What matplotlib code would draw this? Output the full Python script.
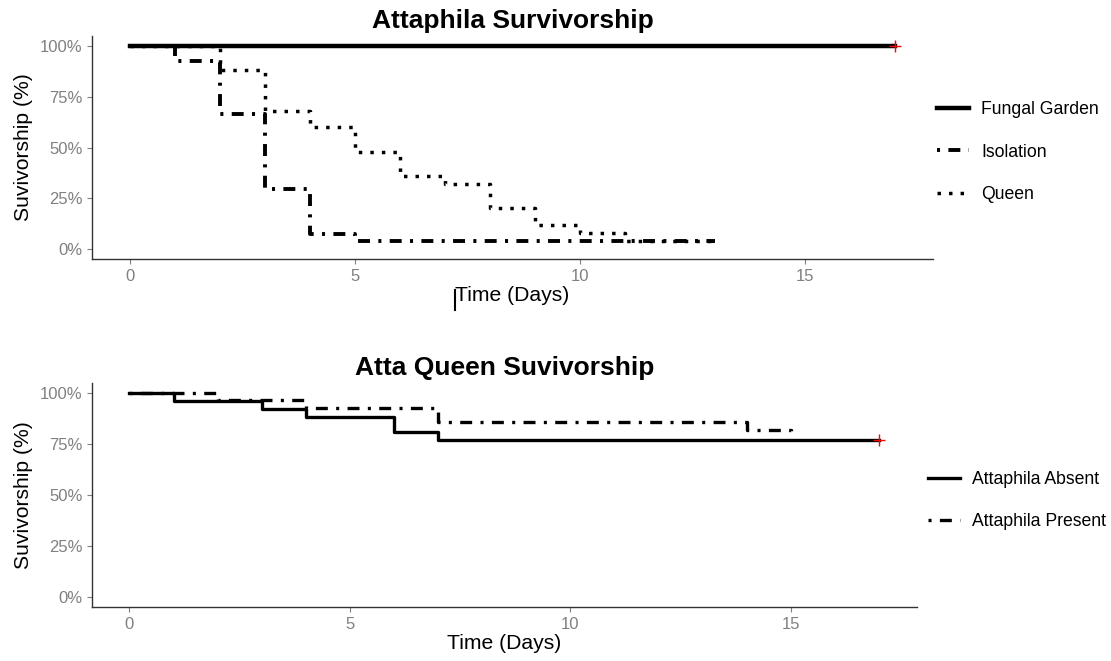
import numpy as np
import matplotlib
matplotlib.use('Agg')
import matplotlib.pyplot as plt
from matplotlib.lines import Line2D

plt.rcParams['font.family'] = ['Liberation Sans', 'DejaVu Sans']
plt.rcParams['lines.scale_dashes'] = False

# top panel: Attaphila survivorship (Kaplan-Meier steps)
garden_t = [0, 17]
garden_s = [100, 100]
iso_t = [0, 1, 2, 3, 4, 5, 13]
iso_s = [100, 92.6, 66.7, 29.6, 7.4, 3.7, 3.7]
queen_t = [0, 2, 3, 4, 5, 6, 7, 8, 9, 10, 11, 13]
queen_s = [100, 88, 68, 60, 48, 36, 32, 20, 12, 8, 4, 4]

# bottom panel: Atta queen survivorship
absent_t = [0, 1, 3, 4, 6, 7, 17]
absent_s = [100, 96.2, 92.3, 88.5, 80.8, 76.9, 76.9]
present_t = [0, 2, 4, 7, 14, 15]
present_s = [100, 96.4, 92.9, 85.7, 82.1, 78.6]

xticks = [0, 5, 10, 15]
yticks = [0, 25, 50, 75, 100]
ylabels = ['0%', '25%', '50%', '75%', '100%']

dotdash = (0, (2.2, 6, 8.6, 6))
dotted = (0, (2.5, 5.8))
grey = '#808080'

fig = plt.figure(figsize=(11.11, 6.61), dpi=100)
ax1 = fig.add_axes([0.0828, 0.6082, 0.757, 0.3373])
ax2 = fig.add_axes([0.0828, 0.0817, 0.7423, 0.3389])


def style(ax, title):
    ax.set_xlim(-0.85, 17.85)
    ax.set_ylim(-5, 105)
    ax.set_xticks(xticks)
    ax.set_yticks(yticks)
    ax.set_yticklabels(ylabels)
    for s in ['top', 'right']:
        ax.spines[s].set_visible(False)
    for s in ['left', 'bottom']:
        ax.spines[s].set_color('#333333')
        ax.spines[s].set_linewidth(1.0)
    ax.tick_params(colors=grey, labelsize=12, length=3.5, width=0.8)
    ax.set_xlabel('Time (Days)', fontsize=15.2, labelpad=2)
    ax.set_ylabel('Suvivorship (%)', fontsize=15.2, labelpad=5)
    ax.set_title(title, fontsize=19, fontweight='bold', pad=6)


l1 = ax1.step(garden_t, garden_s, where='post', color='black', lw=3.2, label='Fungal Garden', zorder=4)[0]
l2 = ax1.step(iso_t, iso_s, where='post', color='black', lw=2.8, ls=dotdash, label='Isolation', zorder=3)[0]
l3 = ax1.step(queen_t, queen_s, where='post', color='black', lw=2.5, ls=dotted, label='Queen', zorder=2)[0]
ax1.plot(17, 100, marker='+', color='red', ms=9, mew=1, zorder=5)
style(ax1, 'Attaphila Survivorship')

b1 = ax2.step(absent_t, absent_s, where='post', color='black', lw=2.4, label='Attaphila Absent', zorder=3)[0]
b2 = ax2.step(present_t, present_s, where='post', color='black', lw=2.4, ls=dotdash, label='Attaphila Present', zorder=2)[0]
ax2.plot(17, 76.9, marker='+', color='red', ms=9, mew=1, zorder=5)
style(ax2, 'Atta Queen Suvivorship')

fig.legend(handles=[l1, l2, l3], loc='center left', bbox_to_anchor=(0.8434, 0.77),
           frameon=False, fontsize=12.7, handlelength=1.8, handletextpad=0.7,
           labelspacing=1.45, borderpad=0, borderaxespad=0)
fig.legend(handles=[b1, b2], loc='center left', bbox_to_anchor=(0.8353, 0.2428),
           frameon=False, fontsize=12.7, handlelength=1.8, handletextpad=0.7,
           labelspacing=1.45, borderpad=0, borderaxespad=0)

# stray bar in front of the top x label, as in the source image
fig.add_artist(Line2D([455 / 1111, 455 / 1111], [1 - 290 / 661, 1 - 310 / 661],
                      color='black', lw=1.5, transform=fig.transFigure))

fig.savefig('out.png', dpi=100)
